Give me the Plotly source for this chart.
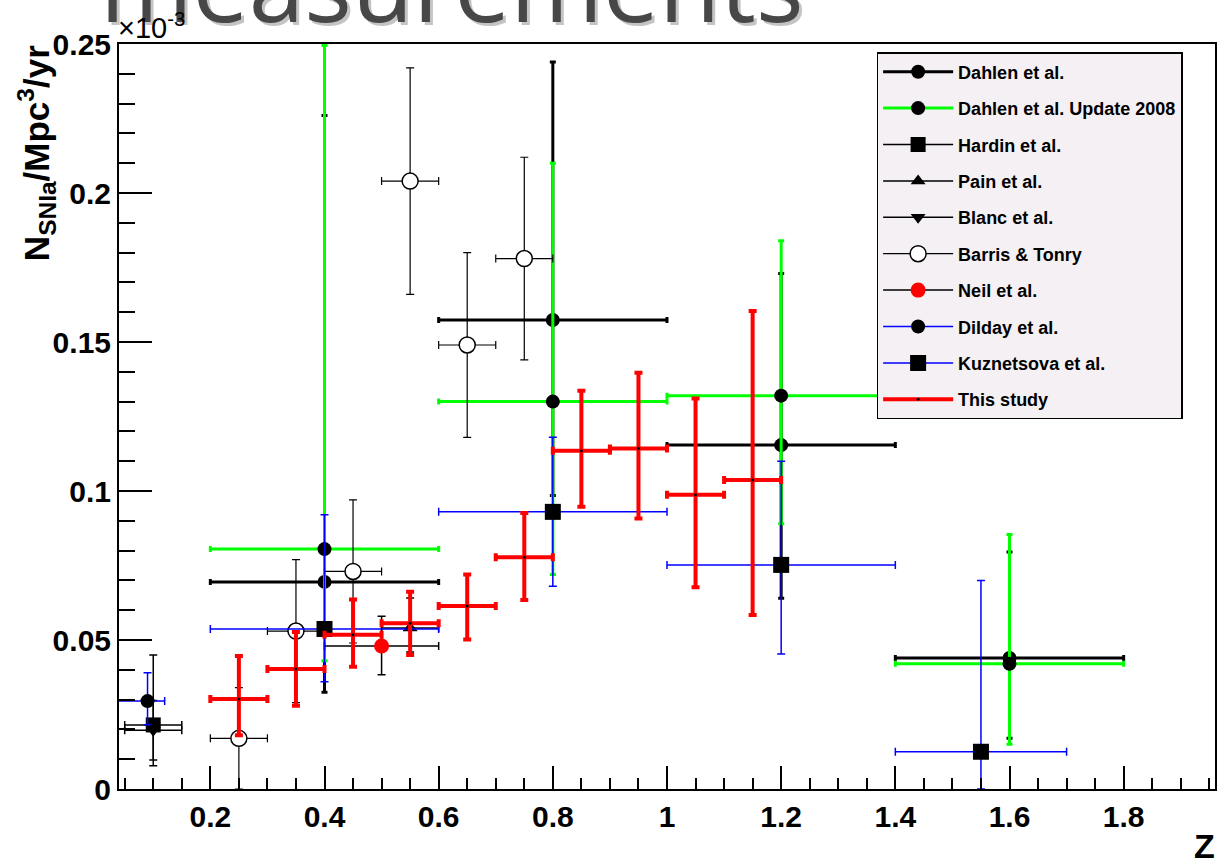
import plotly.graph_objects as go

# SN Ia volumetric rate vs redshift, in units of 1e-3 SNIa / Mpc^3 / yr.
# For each sample: bin centres, rates, upper/lower rate errors, redshift half-widths.

dahlen_z = [0.4, 0.8, 1.2, 1.6]
dahlen_rate = [0.0695, 0.1574, 0.1154, 0.044]
dahlen_err_hi = [0.1565, 0.0866, 0.0576, 0.0355]
dahlen_err_lo = [0.037, 0.0589, 0.0514, 0.027]
dahlen_dz = [0.2, 0.2, 0.2, 0.2]

dahlen08_z = [0.4, 0.8, 1.2, 1.6]
dahlen08_rate = [0.0805, 0.130, 0.132, 0.042]
dahlen08_err_hi = [0.169, 0.080, 0.052, 0.0434]
dahlen08_err_lo = [0.0375, 0.058, 0.043, 0.027]
dahlen08_dz = [0.2, 0.2, 0.2, 0.2]

hardin_z = [0.1]
hardin_rate = [0.0215]
hardin_err_hi = [0.0235]
hardin_err_lo = [0.0137]
hardin_dz = [0.05]

pain_z = [0.55]
pain_rate = [0.054]
pain_err_hi = [0.0101]
pain_err_lo = [0.008]
pain_dz = [0.05]

blanc_z = [0.1]
blanc_rate = [0.0197]
blanc_err_hi = [0.010]
blanc_err_lo = [0.010]
blanc_dz = [0.05]

barris_z = [0.25, 0.35, 0.45, 0.55, 0.65, 0.75]
barris_rate = [0.017, 0.053, 0.073, 0.204, 0.149, 0.178]
barris_err = [0.017, 0.024, 0.024, 0.038, 0.031, 0.034]
barris_dz = [0.05, 0.05, 0.05, 0.05, 0.05, 0.05]

neil_z = [0.5]
neil_rate = [0.048]
neil_err_hi = [0.010]
neil_err_lo = [0.0097]
neil_dz = [0.1]

dilday_z = [0.09]
dilday_rate = [0.0295]
dilday_err_hi = [0.0095]
dilday_err_lo = [0.0079]
dilday_dz_hi = [0.03]
dilday_dz_lo = [0.07]

kuz_z = [0.4, 0.8, 1.2, 1.55]
kuz_rate = [0.0537, 0.093, 0.0752, 0.0125]
kuz_err_hi = [0.0383, 0.025, 0.0348, 0.0575]
kuz_err_lo = [0.0177, 0.025, 0.0299, 0.0125]
kuz_dz = [0.2, 0.2, 0.2, 0.15]

study_z = [0.25, 0.35, 0.45, 0.55, 0.65, 0.75, 0.85, 0.95, 1.05, 1.15]
study_rate = [0.0302, 0.0403, 0.0518, 0.0556, 0.0614, 0.0778, 0.1135, 0.1143, 0.0987, 0.1037]
study_err_hi = [0.0144, 0.0124, 0.0118, 0.0106, 0.0106, 0.0148, 0.0201, 0.0254, 0.0323, 0.0567]
study_err_lo = [0.0122, 0.0124, 0.0108, 0.0106, 0.0112, 0.0144, 0.0188, 0.0235, 0.031, 0.0453]
study_dz = [0.05] * 10

x_tick_vals = [0.2, 0.4, 0.6, 0.8, 1.0, 1.2, 1.4, 1.6, 1.8]
x_tick_text = ["0.2", "0.4", "0.6", "0.8", "1", "1.2", "1.4", "1.6", "1.8"]
y_tick_vals = [0, 0.05, 0.1, 0.15, 0.2, 0.25]
y_tick_text = ["0", "0.05", "0.1", "0.15", "0.2", "0.25"]

# Plot-area geometry in pixels (page is 1221 x 865)
PX_L, PX_R, PX_T, PX_B = 119, 1217, 44, 789
PW, PH = PX_R - PX_L, PX_B - PX_T


def px_x(p):
    return (p - PX_L) / PW


def px_y(p):
    return (PX_B - p) / PH


def gapped(vals, fill=None):
    """Interleave gaps so isolated points are never joined by a line."""
    out = []
    for v in vals:
        out += [v, fill]
    return out[:-1]


def series(name, z, rate, ehi, elo, dzhi, dzlo, color, width, cap,
           symbol, msize, mcolor, mline="black"):
    return go.Scatter(
        x=gapped(z), y=gapped(rate),
        mode="lines+markers", connectgaps=False,
        name="<b>%s</b>" % name, legendgroup=name,
        line=dict(color=color, width=width),
        marker=dict(symbol=symbol, size=msize, color=mcolor,
                    line=dict(color=mline, width=1.5 if mcolor == "white" else 0)),
        error_y=dict(type="data", symmetric=False,
                     array=gapped(ehi, 0), arrayminus=gapped(elo, 0),
                     color=color, thickness=width, width=cap),
        error_x=dict(type="data", symmetric=False,
                     array=gapped(dzhi, 0), arrayminus=gapped(dzlo, 0),
                     color=color, thickness=width, width=cap),
    )


fig = go.Figure()
fig.add_trace(series("Dahlen et al.", dahlen_z, dahlen_rate, dahlen_err_hi, dahlen_err_lo,
                     dahlen_dz, dahlen_dz, "black", 3, 3, "circle", 14, "black"))
fig.add_trace(series("Dahlen et al. Update 2008", dahlen08_z, dahlen08_rate, dahlen08_err_hi,
                     dahlen08_err_lo, dahlen08_dz, dahlen08_dz, "#00ff00", 3, 3,
                     "circle", 14, "black"))
fig.add_trace(series("Hardin et al.", hardin_z, hardin_rate, hardin_err_hi, hardin_err_lo,
                     hardin_dz, hardin_dz, "black", 1.5, 4, "square", 15, "black"))
fig.add_trace(series("Pain et al.", pain_z, pain_rate, pain_err_hi, pain_err_lo,
                     pain_dz, pain_dz, "black", 1.5, 4, "triangle-up", 13, "black"))
fig.add_trace(series("Blanc et al.", blanc_z, blanc_rate, blanc_err_hi, blanc_err_lo,
                     blanc_dz, blanc_dz, "black", 1.5, 4, "triangle-down", 13, "black"))
fig.add_trace(series("Barris & Tonry", barris_z, barris_rate, barris_err, barris_err,
                     barris_dz, barris_dz, "black", 1.2, 4, "circle", 16, "white"))
fig.add_trace(series("Neil et al.", neil_z, neil_rate, neil_err_hi, neil_err_lo,
                     neil_dz, neil_dz, "black", 1.5, 4, "circle", 15, "red"))
fig.add_trace(series("Dilday et al.", dilday_z, dilday_rate, dilday_err_hi, dilday_err_lo,
                     dilday_dz_hi, dilday_dz_lo, "blue", 1.5, 4, "circle", 14, "black"))
fig.add_trace(series("Kuznetsova et al.", kuz_z, kuz_rate, kuz_err_hi, kuz_err_lo,
                     kuz_dz, kuz_dz, "blue", 1.5, 4, "square", 16, "black"))
fig.add_trace(series("This study", study_z, study_rate, study_err_hi, study_err_lo,
                     study_dz, study_dz, "red", 4, 4, "circle", 3, "black"))

tick_font = dict(family="Liberation Sans, Arial", size=30, color="black", weight="bold")

fig.update_xaxes(
    range=[0.04, 1.96], tickvals=x_tick_vals, ticktext=x_tick_text,
    ticks="inside", ticklen=23, tickwidth=1.5, tickcolor="black",
    minor=dict(dtick=0.05, tick0=0, ticks="inside", ticklen=11, tickwidth=1.5, tickcolor="black"),
    showline=True, linecolor="black", linewidth=2, mirror=True,
    showgrid=False, zeroline=False, tickfont=tick_font,
)
fig.update_yaxes(
    range=[0, 0.25], tickvals=y_tick_vals, ticktext=y_tick_text,
    ticks="inside", ticklen=33, tickwidth=1.5, tickcolor="black",
    minor=dict(dtick=0.01, tick0=0, ticks="inside", ticklen=16, tickwidth=1.5, tickcolor="black"),
    showline=True, linecolor="black", linewidth=2, mirror=True,
    showgrid=False, zeroline=False, tickfont=tick_font,
)

annotations = [
    # slide heading, mostly cut off by the top of the page (shadow first)
    dict(text="measurements", x=px_x(101), y=px_y(56), xref="paper", yref="paper",
         xanchor="left", yanchor="bottom", showarrow=False,
         font=dict(family="Open Sans", size=100, color="#c4c4c4")),
    dict(text="measurements", x=px_x(98), y=px_y(53), xref="paper", yref="paper",
         xanchor="left", yanchor="bottom", showarrow=False,
         font=dict(family="Open Sans", size=100, color="#474747")),
    dict(text="×10<sup>-3</sup>", x=px_x(116), y=px_y(46), xref="paper", yref="paper",
         xanchor="left", yanchor="bottom", showarrow=False,
         font=dict(family="Liberation Sans, Arial", size=29, color="black")),
    dict(text="<b>N<sub>SNIa</sub>/Mpc<sup>3</sup>/yr</b>", textangle=-90,
         x=px_x(36), y=px_y(43), xref="paper", yref="paper",
         xanchor="center", yanchor="top", showarrow=False,
         font=dict(family="Liberation Sans, Arial", size=35, color="black")),
    dict(text="<b>Z</b>", x=px_x(1206), y=px_y(846), xref="paper", yref="paper",
         xanchor="center", yanchor="middle", showarrow=False,
         font=dict(family="Liberation Sans, Arial", size=34, color="black")),
]

fig.update_layout(
    width=1221, height=865,
    margin=dict(l=PX_L, r=1221 - PX_R, t=PX_T, b=865 - PX_B),
    paper_bgcolor="white", plot_bgcolor="white",
    annotations=annotations,
    showlegend=True,
    legend=dict(
        x=px_x(878), y=px_y(52), xanchor="left", yanchor="top",
        bgcolor="#f4f0f4", bordercolor="black", borderwidth=1.5,
        font=dict(family="Liberation Sans, Arial", size=18, color="black"),
        traceorder="grouped", tracegroupgap=10, itemwidth=70,
    ),
)

fig.write_html("out.html")
